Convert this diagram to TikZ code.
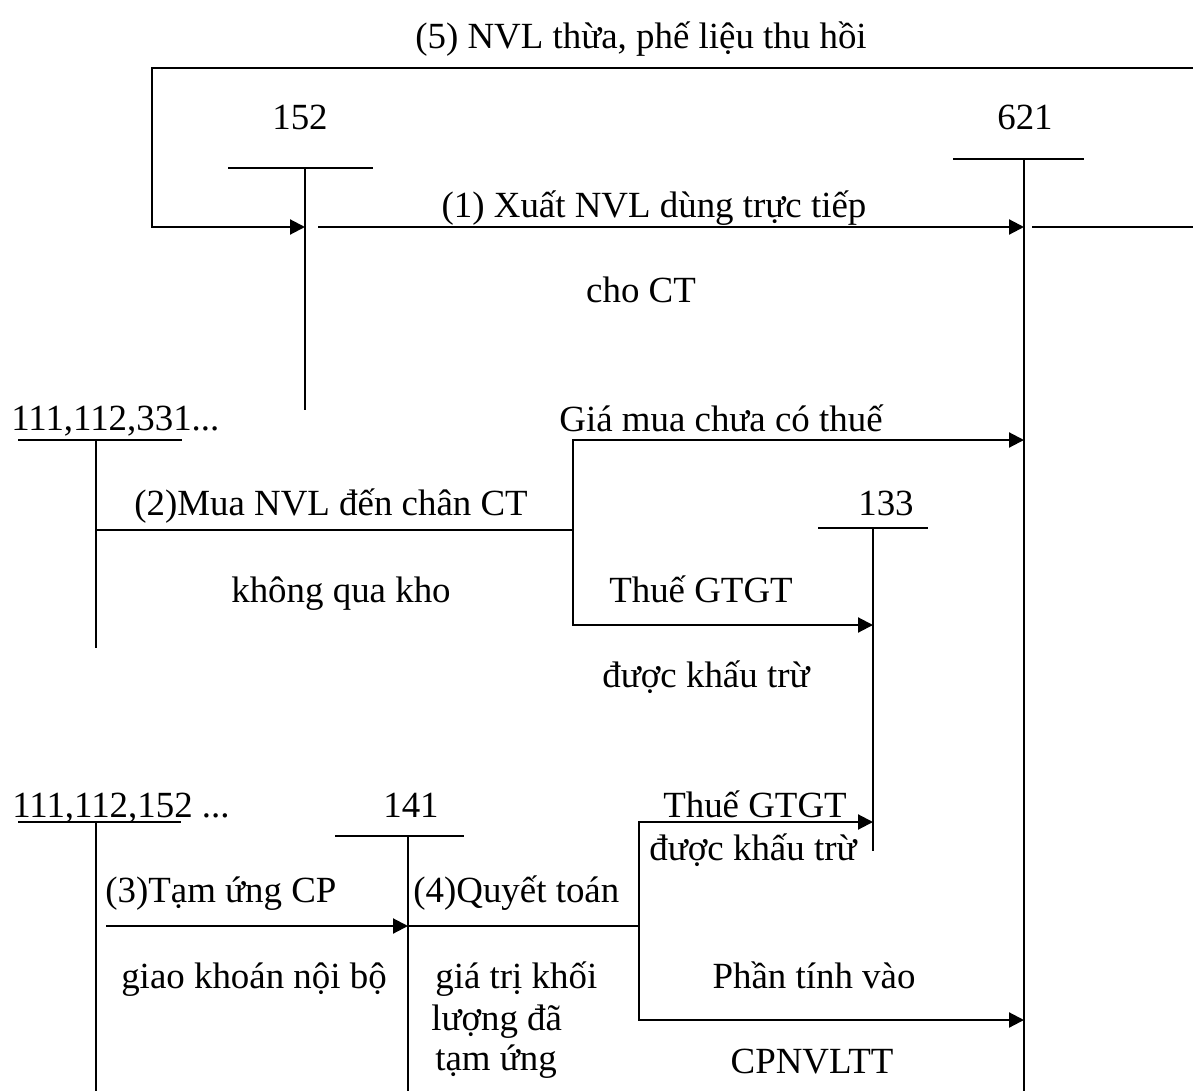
\documentclass[tikz,border=0pt]{standalone}
\usepackage{fontspec}
\setmainfont{Liberation Serif}
\usetikzlibrary{arrows.meta, positioning}

\begin{document}
\begin{tikzpicture}[
    x=0.02cm, y=-0.02cm,
    acc/.style={line width=1pt},
    arr/.style={-{Triangle[length=0.3cm, width=0.3cm]}, line width=1.2pt},
    lbl/.style={font=\fontsize{21}{25}\selectfont, inner sep=0pt, anchor=base},
    lblw/.style={lbl, anchor=base west},
]
\useasboundingbox (0,0) rectangle (1193,1091);

% T accounts
\coordinate (b152l) at (228,168); \coordinate (b152r) at (373,168);
\coordinate (t152) at (305,168);  \coordinate (e152) at (305,410);
\coordinate (b621l) at (953,159); \coordinate (b621r) at (1084,159);
\coordinate (t621) at (1024,159); \coordinate (e621) at (1024,1091);
\coordinate (b331l) at (18,440);  \coordinate (b331r) at (182,440);
\coordinate (t331) at (96,440);   \coordinate (e331) at (96,648);
\coordinate (b133l) at (818,528); \coordinate (b133r) at (928,528);
\coordinate (t133) at (873,528);  \coordinate (e133) at (873,851);
\coordinate (b1152l) at (18,822); \coordinate (b1152r) at (181,822);
\coordinate (t1152) at (96,822);  \coordinate (e1152) at (96,1091);
\coordinate (b141l) at (335,836); \coordinate (b141r) at (464,836);
\coordinate (t141) at (408,836);  \coordinate (e141) at (408,1091);

\foreach \acct in {152,621,331,133,1152,141} {
    \draw[acc] (b\acct l) -- (b\acct r);
    \draw[acc] (t\acct) -- (e\acct);
}

\node[lbl] (n152) at (300,130) {152};
\node[lbl] (n621) at (1025,130) {621};
\node[lblw] (n331) at (11,430) {111,112,331...};
\node[lbl] (n133) at (886,515) {133};
\node[lblw] (n1152) at (12,817) {111,112,152 ...};
\node[lbl] (n141) at (411,817) {141};

% (5) recovered materials
\coordinate (r5) at (1193,68);
\coordinate (l5) at (152,68);
\coordinate (m5) at (152,227);
\coordinate (in152) at (305,227);
\draw[arr] (r5) -- (l5) -- (m5) -- (in152);
\node[lbl] (t5) at (641,49) {(5) NVL thừa, phế liệu thu hồi};

% (1) issue to 621
\coordinate (out152) at (318,227);
\coordinate (in621a) at (1024,227);
\coordinate (out621) at (1032,227);
\coordinate (redge) at (1193,227);
\draw[arr] (out152) -- (in621a);
\draw[acc] (out621) -- (redge);
\node[lbl] (t1a) at (654,217) {(1) Xuất NVL dùng trực tiếp};
\node[lbl] (t1b) at (641,302) {cho CT};

% (2) purchase straight to site
\coordinate (out331) at (96,530);
\coordinate (j2) at (573,530);
\coordinate (j2t) at (573,440);
\coordinate (j2b) at (573,625);
\coordinate (in621b) at (1024,440);
\coordinate (in133a) at (873,625);
\draw[acc] (out331) -- (j2);
\draw[arr] (j2) -- (j2t) -- (in621b);
\draw[arr] (j2) -- (j2b) -- (in133a);
\node[lbl] (t2a) at (331,515) {(2)Mua NVL đến chân CT};
\node[lbl] (t2b) at (341,602) {không qua kho};
\node[lbl] (t2c) at (721,431) {Giá mua chưa có thuế};
\node[lbl] (t2d) at (701,602) {Thuế GTGT};
\node[lbl] (t2e) at (706,687) {được khấu trừ};

% (3) advance
\coordinate (out1152) at (106,926);
\coordinate (in141) at (408,926);
\draw[arr] (out1152) -- (in141);
\node[lblw] (t3a) at (105,902) {(3)Tạm ứng CP};
\node[lbl] (t3b) at (254,988) {giao khoán nội bộ};

% (4) settlement
\coordinate (j4) at (639,926);
\coordinate (j4t) at (639,822);
\coordinate (j4b) at (639,1020);
\coordinate (in133b) at (873,822);
\coordinate (in621c) at (1024,1020);
\draw[acc] (in141) -- (j4);
\draw[arr] (j4) -- (j4t) -- (in133b);
\draw[arr] (j4) -- (j4b) -- (in621c);
\node[lblw] (t4a) at (413,902) {(4)Quyết toán};
\node[lblw] (t4b) at (435,988) {giá trị khối};
\node[lblw] (t4c) at (431,1030) {lượng đã};
\node[lblw] (t4d) at (435,1070) {tạm ứng};
\node[lbl] (t4e) at (755,817) {Thuế GTGT};
\node[lbl] (t4f) at (753,860) {được khấu trừ};
\node[lbl] (t4g) at (814,988) {Phần tính vào};
\node[lbl] (t4h) at (812,1073) {CPNVLTT};

\end{tikzpicture}
\end{document}
